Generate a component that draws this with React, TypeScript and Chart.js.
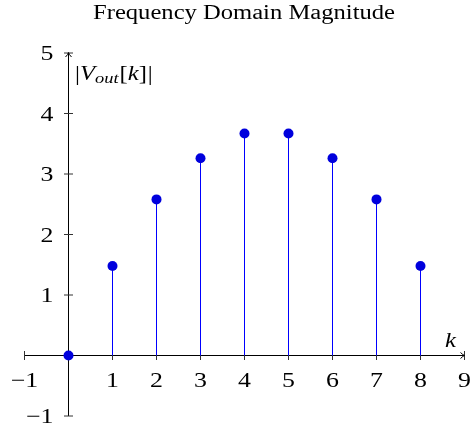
import React, { useEffect, useRef } from "react";
import { Chart, registerables } from "chart.js";

Chart.register(...registerables);

// ---- data ----
const kValues = [0, 1, 2, 3, 4, 5, 6, 7, 8];
const magnitudes = [0, 1.48, 2.58, 3.26, 3.67, 3.67, 3.26, 2.58, 1.48];
const xTickValues = [-1, 1, 2, 3, 4, 5, 6, 7, 8, 9];
const yTickValues = [-1, 1, 2, 3, 4, 5];
const xRange = [-1, 9];
const yRange = [-1, 5];
const titleText = "Frequency Domain Magnitude";
const xAxisLabel = "k";

// ---- style ----
const SERIF = '"Liberation Serif", "Times New Roman", serif';
const SX = 1.23; // horizontal text stretch of the reference rendering
const STEM_COLOR = "#0000ff";
const DOT_COLOR = "#0000dd";

const fmt = (v: number) => (v < 0 ? "\u2212" + Math.abs(v) : String(v));

function drawText(ctx: CanvasRenderingContext2D, text: string, x: number, y: number, align: CanvasTextAlign, font: string) {
  ctx.save();
  ctx.font = font;
  ctx.textAlign = align;
  ctx.textBaseline = "alphabetic";
  ctx.translate(x, y);
  ctx.scale(SX, 1);
  ctx.fillText(text, 0, 0);
  ctx.restore();
}

type Part = { t: string; font: string; dy?: number; gap?: number };
function drawRich(ctx: CanvasRenderingContext2D, parts: Part[], x: number, y: number) {
  let cx = x;
  for (const p of parts) {
    ctx.save();
    ctx.font = p.font;
    ctx.textAlign = "left";
    ctx.textBaseline = "alphabetic";
    const w = ctx.measureText(p.t).width;
    ctx.translate(cx, y + (p.dy || 0));
    ctx.scale(SX, 1);
    ctx.fillText(p.t, 0, 0);
    ctx.restore();
    cx += w * SX + (p.gap || 0);
  }
}

const middleAxes = {
  id: "middleAxes",
  beforeDatasetsDraw(chart: any) {
    const { ctx, scales } = chart;
    const x = scales.x;
    const y = scales.y;
    const x0 = x.getPixelForValue(0);
    const y0 = y.getPixelForValue(0);
    const xl = x.getPixelForValue(xRange[0]);
    const xr = x.getPixelForValue(xRange[1]);
    const yb = y.getPixelForValue(yRange[0]);
    const yt = y.getPixelForValue(yRange[1]);
    ctx.save();
    ctx.strokeStyle = "#000";
    ctx.lineWidth = 1;
    ctx.beginPath();
    ctx.moveTo(xl, y0);
    ctx.lineTo(xr, y0);
    ctx.moveTo(x0, yb);
    ctx.lineTo(x0, yt);
    ctx.stroke();

    // ticks
    ctx.strokeStyle = "#333";
    ctx.beginPath();
    xTickValues.forEach((v) => {
      const px = x.getPixelForValue(v);
      ctx.moveTo(px, y0 - 4.5);
      ctx.lineTo(px, y0 + 4.5);
    });
    yTickValues.forEach((v) => {
      const py = y.getPixelForValue(v);
      ctx.moveTo(x0 - 4.5, py);
      ctx.lineTo(x0 + 4.5, py);
    });
    ctx.stroke();

    // arrow heads
    ctx.strokeStyle = "#000";
    ctx.beginPath();
    ctx.moveTo(xr - 4, y0 - 3);
    ctx.quadraticCurveTo(xr - 1.5, y0 - 0.5, xr, y0);
    ctx.quadraticCurveTo(xr - 1.5, y0 + 0.5, xr - 4, y0 + 3);
    ctx.moveTo(x0 - 3, yt + 4);
    ctx.quadraticCurveTo(x0 - 0.5, yt + 1.5, x0, yt - 0.5);
    ctx.quadraticCurveTo(x0 + 0.5, yt + 1.5, x0 + 3, yt + 4);
    ctx.stroke();

    // tick labels
    ctx.fillStyle = "#000";
    const tickFont = `21px ${SERIF}`;
    xTickValues.forEach((v) => {
      drawText(ctx, fmt(v), x.getPixelForValue(v), y0 + 31, "center", tickFont);
    });
    yTickValues.forEach((v) => {
      drawText(ctx, fmt(v), x0 - 15, y.getPixelForValue(v) + 7, "right", tickFont);
    });

    // axis labels
    drawText(ctx, xAxisLabel, xr - 14, y0 - 9, "center", `italic 20px ${SERIF}`);
    const up = `20px ${SERIF}`;
    const it = `italic 20px ${SERIF}`;
    const sub = `italic 15px ${SERIF}`;
    drawRich(
      ctx,
      [
        { t: "|", font: up },
        { t: "V", font: it },
        { t: "out", font: sub, dy: 3, gap: 1 },
        { t: "[", font: up },
        { t: "k", font: it },
        { t: "]", font: up, gap: 1 },
        { t: "|", font: up },
      ],
      x0 + 6.5,
      yt + 26.5
    );
    ctx.restore();
  },
  afterDraw(chart: any) {
    const { ctx } = chart;
    ctx.save();
    ctx.fillStyle = "#000";
    drawText(ctx, titleText, 244, 19, "center", `20px ${SERIF}`);
    ctx.restore();
  },
};

export default function App() {
  const canvasRef = useRef<HTMLCanvasElement | null>(null);

  useEffect(() => {
    document.body.style.margin = "0";
    const canvas = canvasRef.current;
    if (!canvas) return;
    const points = kValues.map((k, i) => ({ x: k, y: magnitudes[i] }));
    const chart = new Chart(canvas, {
      type: "scatter",
      data: {
        datasets: [
          {
            type: "scatter",
            label: "|V_out[k]|",
            data: points,
            pointRadius: 5,
            pointHoverRadius: 5,
            pointBackgroundColor: DOT_COLOR,
            pointBorderColor: DOT_COLOR,
            pointBorderWidth: 0,
            showLine: false,
          } as any,
          {
            type: "bar",
            label: "stems",
            data: points,
            backgroundColor: STEM_COLOR,
            borderWidth: 0,
            barThickness: 1,
            inflateAmount: 0,
          } as any,
        ],
      },
      options: {
        animation: false,
        responsive: false,
        devicePixelRatio: 1,
        layout: { padding: { left: 24.5, right: 7.5, top: 53, bottom: 13 } },
        plugins: {
          legend: { display: false },
          title: { display: false },
          tooltip: { enabled: false },
        },
        scales: {
          x: {
            type: "linear",
            min: xRange[0],
            max: xRange[1],
            offset: false,
            display: false,
          },
          y: {
            type: "linear",
            min: yRange[0],
            max: yRange[1],
            display: false,
          },
        },
      },
      plugins: [middleAxes],
    });
    return () => chart.destroy();
  }, []);

  return (
    <div style={{ width: 472, height: 429 }}>
      <canvas ref={canvasRef} width={472} height={429} style={{ display: "block" }} />
    </div>
  );
}
